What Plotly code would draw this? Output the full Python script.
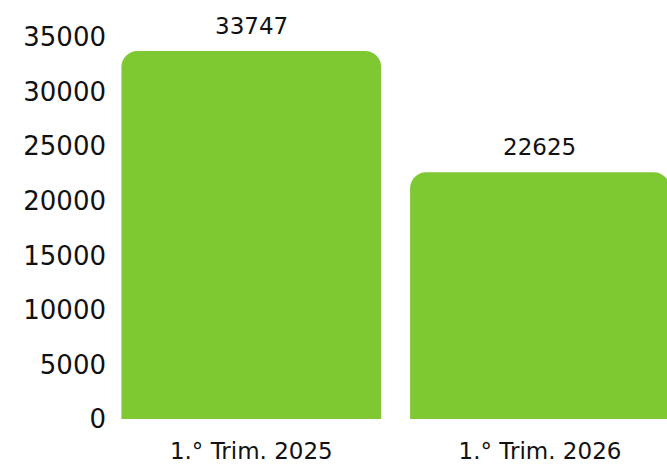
import plotly.graph_objects as go

categories = ["1.° Trim. 2025", "1.° Trim. 2026"]
values = [33747, 22625]
tick_vals = [0, 5000, 10000, 15000, 20000, 25000, 30000, 35000]
tick_text = [str(v) for v in tick_vals]

green = "#7ec832"
font_family = "DejaVu Sans"

fig = go.Figure(
    go.Bar(
        x=categories,
        y=values,
        marker=dict(color=green, cornerradius=16, line=dict(width=0)),
        hoverinfo="skip",
    )
)

for c, v in zip(categories, values):
    fig.add_annotation(
        x=c, y=v, text=str(v), showarrow=False,
        yanchor="bottom", yshift=10,
        font=dict(family=font_family, size=23, color="#111111"),
    )

fig.update_layout(
    width=667, height=464,
    margin=dict(l=107, r=0, t=26, b=45),
    paper_bgcolor="white", plot_bgcolor="white",
    bargap=0.1, showlegend=False,
    xaxis=dict(
        range=[-0.5, 1.44], showgrid=False, zeroline=False, showline=False,
        ticks="outside", ticklen=11, tickcolor="white",
        tickfont=dict(family=font_family, size=23, color="#111111"),
    ),
    yaxis=dict(
        range=[0, 36040], tickvals=tick_vals, ticktext=tick_text,
        showgrid=False, zeroline=False, showline=False,
        ticks="",
        tickfont=dict(family=font_family, size=26, color="#111111"),
    ),
)

fig.write_html(
    "out.html",
    config={"displayModeBar": False, "staticPlot": True},
    post_script="document.body.style.margin='0';document.body.style.overflow='hidden';",
)
